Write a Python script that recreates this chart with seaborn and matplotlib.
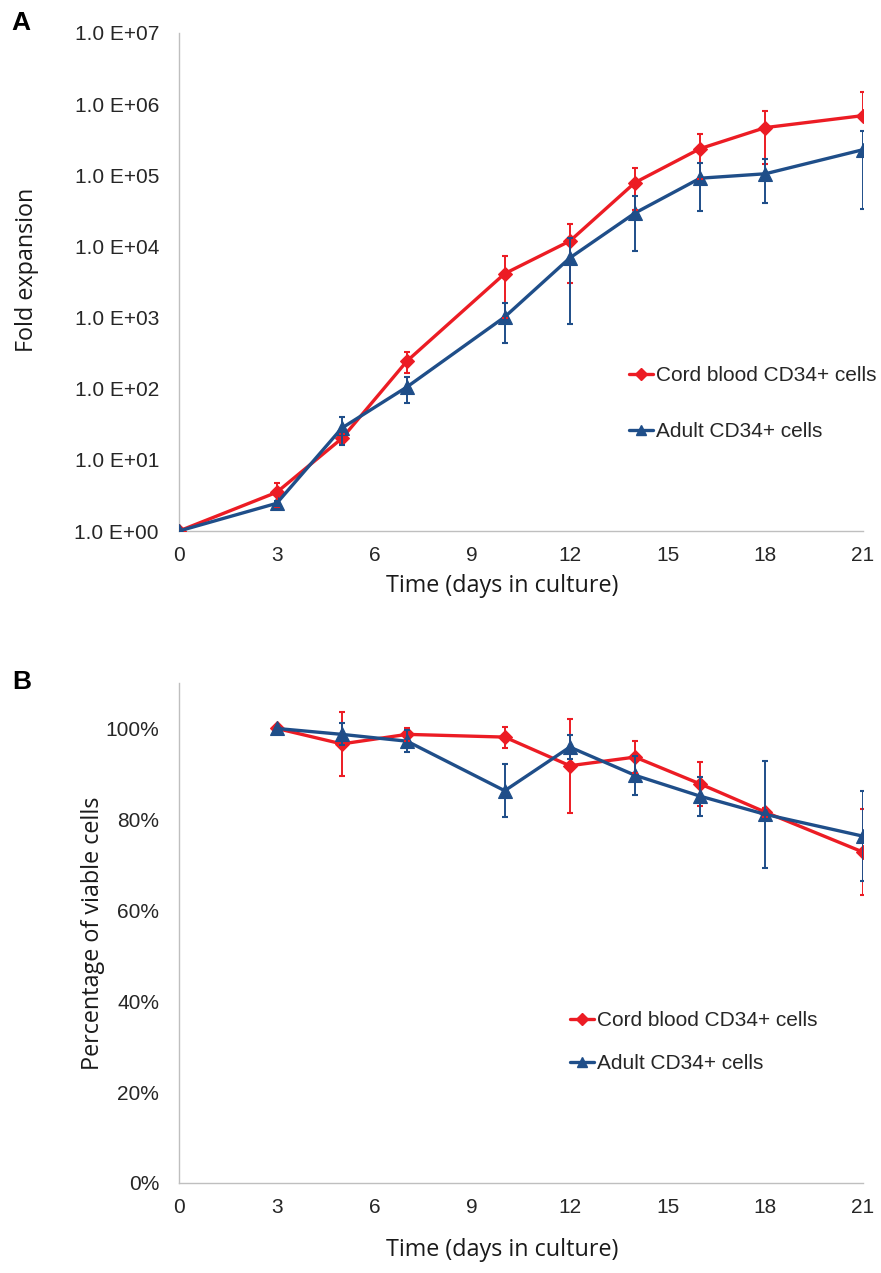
import numpy as np
import pandas as pd
import matplotlib
matplotlib.use("Agg")
import matplotlib.pyplot as plt
from matplotlib.lines import Line2D
from matplotlib.ticker import FixedLocator, FuncFormatter, NullLocator, PercentFormatter
import seaborn as sns

# ---------------- data ----------------
days_a = [0, 3, 5, 7, 10, 12, 14, 16, 18, 21]
cord_a = [1, 3.5, 20, 245, 4150, 11900, 79000, 237000, 468000, 690000]
cord_a_sd = [0, 1.3, 3, 80, 3150, 8800, 47000, 148000, 322000, 770000]
adult_a = [1, 2.45, 28, 106, 1020, 6900, 29500, 91000, 105000, 229000]
adult_a_sd = [0, 0.2, 12, 42, 580, 6100, 21000, 60000, 64000, 195000]

days_b = [3, 5, 7, 10, 12, 14, 16, 18, 21]
cord_b = [100, 96.6, 98.7, 98.1, 91.8, 93.7, 87.8, 81.6, 72.8]
cord_b_sd = [0, 7.0, 1.5, 2.3, 10.3, 3.5, 4.8, 1.0, 9.4]
adult_b = [100, 98.7, 97.2, 86.3, 95.9, 89.7, 85.1, 81.1, 76.3]
adult_b_sd = [0, 2.4, 2.4, 5.8, 2.6, 4.3, 4.3, 11.7, 9.9]

series_names = ["Cord blood CD34+ cells", "Adult CD34+ cells"]
x_ticks = [0, 3, 6, 9, 12, 15, 18, 21]
xlabel = "Time (days in culture)"
ylabel_a = "Fold expansion"
ylabel_b = "Percentage of viable cells"

RED = "#EC1C24"
BLUE = "#1F4E89"
AXC = "#BFBFBF"
TXT = "#262626"

sns.set_style("white")
plt.rcParams["font.family"] = ["Liberation Sans", "DejaVu Sans"]

W, H = 881, 1273
fig = plt.figure(figsize=(W / 100, H / 100), dpi=100)
ax1 = fig.add_axes([179 / W, 1 - 531 / H, 684 / W, 498 / H])
ax2 = fig.add_axes([179 / W, 1 - 1183 / H, 684 / W, 500 / H])

styles = [dict(color=RED, marker="D", ms=7.5), dict(color=BLUE, marker="^", ms=9.5)]


def draw(ax, days, vals, sds, log):
    for name, v, s, st in zip(series_names, vals, sds, styles):
        df = pd.DataFrame({"day": days, "val": v})
        sns.lineplot(data=df, x="day", y="val", ax=ax, color=st["color"],
                     lw=2.4, marker=st["marker"], markersize=st["ms"],
                     markeredgecolor=st["color"], markeredgewidth=0.8,
                     legend=False, zorder=3, errorbar=None, sort=False)
        v = np.asarray(v, float)
        s = np.asarray(s, float)
        lower = np.where(s < v, s, 0.0) if log else s
        ax.errorbar(days, v, yerr=[lower, s], fmt="none", ecolor=st["color"],
                    elinewidth=1.4, capsize=2.2, capthick=1.5, zorder=4)


def style_axes(ax):
    sns.despine(ax=ax)
    for sp in ["left", "bottom"]:
        ax.spines[sp].set_color(AXC)
        ax.spines[sp].set_linewidth(1.0)
    ax.set_xlim(0, 21)
    ax.xaxis.set_major_locator(FixedLocator(x_ticks))
    ax.tick_params(axis="both", direction="out", length=5, width=1,
                   color=AXC, labelsize=15, labelcolor=TXT)
    ax.tick_params(axis="y", pad=9.4)
    ax.tick_params(axis="x", pad=5.5)
    ax.set_xlabel("")
    ax.set_ylabel("")


draw(ax1, days_a, [cord_a, adult_a], [cord_a_sd, adult_a_sd], True)
ax1.set_yscale("log")
ax1.set_ylim(1, 1e7)
ax1.yaxis.set_major_locator(FixedLocator([10.0 ** k for k in range(8)]))
ax1.yaxis.set_minor_locator(NullLocator())
ax1.yaxis.set_major_formatter(FuncFormatter(lambda v, p: f"1.0 E+{int(round(np.log10(v))):02d}"))
style_axes(ax1)

draw(ax2, days_b, [cord_b, adult_b], [cord_b_sd, adult_b_sd], False)
ax2.set_ylim(0, 110)
ax2.yaxis.set_major_locator(FixedLocator([0, 20, 40, 60, 80, 100]))
ax2.yaxis.set_major_formatter(PercentFormatter(100, decimals=0))
style_axes(ax2)

handles = [Line2D([], [], color=st["color"], lw=2.4, marker=st["marker"],
                  markersize=st["ms"] * 0.8, markeredgecolor=st["color"]) for st in styles]

for ax, y_c, x_l, spacing in [(ax1, 403.5, 629, 1.78), (ax2, 1042, 570, 1.15)]:
    ax.legend(handles, series_names, loc="center left",
              bbox_to_anchor=(x_l / W, 1 - y_c / H), bbox_transform=fig.transFigure,
              frameon=False, fontsize=15, handlelength=1.15, handletextpad=0.15,
              labelspacing=spacing, borderpad=0, borderaxespad=0, numpoints=1,
              labelcolor=TXT)

lab_font = ["Open Sans", "DejaVu Sans"]
LABC = "#1A1A1A"
fig.text(502 / W, 1 - 586 / H, xlabel, ha="center", va="center", fontsize=16.8,
         family=lab_font, color=LABC)
fig.text(502 / W, 1 - 1250 / H, xlabel, ha="center", va="center", fontsize=16.8,
         family=lab_font, color=LABC)
fig.text(27 / W, 1 - 270 / H, ylabel_a, ha="center", va="center", rotation=90,
         fontsize=16.8, family=lab_font, color=LABC)
fig.text(93 / W, 1 - 933 / H, ylabel_b, ha="center", va="center", rotation=90,
         fontsize=16.8, family=lab_font, color=LABC)

fig.text(21 / W, 1 - 23 / H, "A", ha="center", va="center", fontsize=19,
         fontweight="bold", color="black")
fig.text(22 / W, 1 - 682 / H, "B", ha="center", va="center", fontsize=19,
         fontweight="bold", color="black")

fig.savefig("out.png", dpi=100)
